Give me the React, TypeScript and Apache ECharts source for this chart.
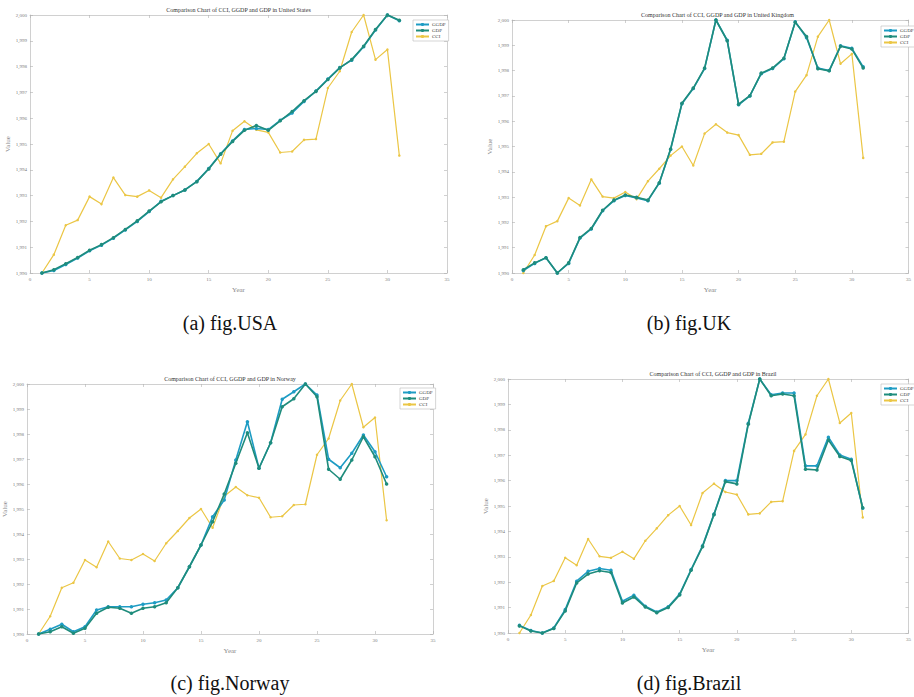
import { useEffect, useRef } from "react";
import * as echarts from "echarts";

const years = [1, 2, 3, 4, 5, 6, 7, 8, 9, 10, 11, 12, 13, 14, 15, 16, 17, 18, 19, 20, 21, 22, 23, 24, 25, 26, 27, 28, 29, 30, 31];
const seriesNames = ["GGDP", "GDP", "CCI"];

const cciValues = [1990.0, 1990.71, 1991.85, 1992.05, 1992.96, 1992.67, 1993.7, 1993.02, 1992.96, 1993.2, 1992.92, 1993.63, 1994.12, 1994.64, 1995.0, 1994.25, 1995.51, 1995.88, 1995.55, 1995.45, 1994.67, 1994.71, 1995.16, 1995.19, 1997.17, 1997.82, 1999.34, 2000.0, 1998.27, 1998.66, 1994.55];

const usaGgdp = [1990.0, 1990.1, 1990.33, 1990.58, 1990.86, 1991.08, 1991.35, 1991.67, 1992.0, 1992.38, 1992.78, 1993.0, 1993.22, 1993.55, 1994.05, 1994.62, 1995.12, 1995.56, 1995.6, 1995.56, 1995.92, 1996.2, 1996.65, 1997.05, 1997.52, 1997.96, 1998.25, 1998.77, 1999.42, 2000.0, 1999.78];
const usaGdp = [1990.0, 1990.13, 1990.36, 1990.6, 1990.88, 1991.1, 1991.37, 1991.69, 1992.02, 1992.4, 1992.76, 1993.0, 1993.22, 1993.54, 1994.03, 1994.6, 1995.1, 1995.53, 1995.72, 1995.53, 1995.9, 1996.26, 1996.68, 1997.04, 1997.5, 1997.95, 1998.27, 1998.79, 1999.44, 2000.0, 1999.8];

const ukGgdp = [1990.1, 1990.38, 1990.6, 1990.0, 1990.38, 1991.38, 1991.74, 1992.46, 1992.86, 1993.06, 1992.97, 1992.86, 1993.55, 1994.88, 1996.69, 1997.29, 1998.08, 2000.0, 1999.2, 1996.65, 1997.0, 1997.88, 1998.08, 1998.47, 1999.93, 1999.3, 1998.1, 1998.0, 1998.98, 1998.88, 1998.15];
const ukGdp = [1990.13, 1990.4, 1990.6, 1990.0, 1990.4, 1991.4, 1991.76, 1992.48, 1992.88, 1993.08, 1992.99, 1992.88, 1993.57, 1994.9, 1996.71, 1997.31, 1998.1, 2000.0, 1999.18, 1996.67, 1997.01, 1997.9, 1998.1, 1998.49, 1999.91, 1999.35, 1998.07, 1997.99, 1998.96, 1998.85, 1998.1];

const norwayGgdp = [1990.0, 1990.19, 1990.39, 1990.09, 1990.29, 1990.96, 1991.09, 1991.09, 1991.09, 1991.19, 1991.25, 1991.36, 1991.85, 1992.69, 1993.56, 1994.69, 1995.36, 1996.96, 1998.49, 1996.63, 1997.65, 1999.39, 1999.69, 2000.0, 1999.56, 1996.99, 1996.65, 1997.23, 1997.96, 1997.29, 1996.29];
const norwayGdp = [1990.0, 1990.09, 1990.29, 1990.03, 1990.23, 1990.83, 1991.07, 1991.03, 1990.83, 1991.03, 1991.09, 1991.25, 1991.85, 1992.69, 1993.56, 1994.49, 1995.6, 1996.83, 1998.05, 1996.63, 1997.65, 1999.09, 1999.41, 2000.0, 1999.49, 1996.59, 1996.19, 1996.96, 1997.89, 1997.09, 1996.0];

const brazilGgdp = [1990.3, 1990.1, 1990.0, 1990.2, 1990.92, 1992.04, 1992.43, 1992.54, 1992.47, 1991.25, 1991.49, 1991.05, 1990.83, 1991.03, 1991.53, 1992.5, 1993.43, 1994.68, 1996.0, 1996.0, 1998.26, 2000.0, 1999.38, 1999.45, 1999.45, 1996.58, 1996.58, 1997.71, 1997.01, 1996.84, 1994.91];
const brazilGdp = [1990.28, 1990.08, 1990.0, 1990.18, 1990.87, 1991.97, 1992.32, 1992.45, 1992.38, 1991.18, 1991.42, 1991.02, 1990.8, 1991.0, 1991.5, 1992.47, 1993.4, 1994.66, 1995.96, 1995.87, 1998.22, 2000.0, 1999.34, 1999.41, 1999.34, 1996.45, 1996.42, 1997.6, 1996.95, 1996.79, 1994.93];

const panels = [
  { title: "Comparison Chart of CCI, GGDP and GDP in United States", caption: "(a) fig.USA", ggdp: usaGgdp, gdp: usaGdp },
  { title: "Comparison Chart of CCI, GGDP and GDP in United Kingdom", caption: "(b) fig.UK", ggdp: ukGgdp, gdp: ukGdp },
  { title: "Comparison Chart of CCI, GGDP and GDP in Norway", caption: "(c) fig.Norway", ggdp: norwayGgdp, gdp: norwayGdp },
  { title: "Comparison Chart of CCI, GGDP and GDP in Brazil", caption: "(d) fig.Brazil", ggdp: brazilGgdp, gdp: brazilGdp },
];

// layout (pixels)
const layouts = [
  { left: 30, top: 15, width: 417, height: 258, legendLeft: 413, legendTop: 20, capX: 230, capY: 323 },
  { left: 512, top: 20, width: 411, height: 253, legendLeft: 881, legendTop: 26, capX: 689, capY: 323 },
  { left: 27, top: 384, width: 406, height: 250, legendLeft: 400, legendTop: 388, capX: 230, capY: 683 },
  { left: 508, top: 379, width: 410, height: 254, legendLeft: 881, legendTop: 384, capX: 689, capY: 683 },
];

const colors = ["#1E9CC4", "#1F8C7C", "#EBC645"];
const SERIF = "'Liberation Serif', 'Times New Roman', serif";
const axisColor = "#c4c4c4";
const labelColor = "#7a7a7a";

export default function App() {
  const ref = useRef<HTMLDivElement>(null);
  useEffect(() => {
    if (!ref.current) return;
    const chart = echarts.init(ref.current, undefined, { renderer: "svg" });
    const grid: any[] = [];
    const xAxis: any[] = [];
    const yAxis: any[] = [];
    const series: any[] = [];
    const title: any[] = [];
    const legend: any[] = [];

    panels.forEach((p, g) => {
      const L = layouts[g];
      grid.push({ left: L.left, top: L.top, width: L.width, height: L.height, containLabel: false });
      const baseLine = { show: true, onZero: false, lineStyle: { color: axisColor, width: 0.8 } };
      const baseTick = { show: true, inside: true, length: 3, lineStyle: { color: "#b0b0b0", width: 0.6 } };
      xAxis.push({
        type: "value", gridIndex: g, min: 0, max: 35, interval: 5, position: "bottom",
        axisLine: baseLine, axisTick: baseTick, splitLine: { show: false },
        axisLabel: { fontSize: 5, color: labelColor, margin: 4, fontFamily: SERIF },
        name: "Year", nameLocation: "middle", nameGap: 13,
        nameTextStyle: { fontSize: 7, color: "#8a8a8a", fontFamily: SERIF },
      });
      xAxis.push({
        type: "value", gridIndex: g, min: 0, max: 35, interval: 5, position: "top",
        axisLine: baseLine, axisTick: baseTick, splitLine: { show: false },
        axisLabel: { show: false },
      });
      yAxis.push({
        type: "value", gridIndex: g, min: 1990, max: 2000, interval: 1, position: "left",
        axisLine: baseLine, axisTick: baseTick, splitLine: { show: false },
        axisLabel: { fontSize: 5, color: labelColor, margin: 3, fontFamily: SERIF },
        name: "Value", nameLocation: "middle", nameGap: 16, nameRotate: 90,
        nameTextStyle: { fontSize: 7, color: "#8a8a8a", fontFamily: SERIF },
      });
      yAxis.push({
        type: "value", gridIndex: g, min: 1990, max: 2000, interval: 1, position: "right",
        axisLine: baseLine, axisTick: baseTick, splitLine: { show: false },
        axisLabel: { show: false },
      });
      const vals = [p.ggdp, p.gdp, cciValues];
      vals.forEach((arr, k) => {
        series.push({
          type: "line",
          name: seriesNames[k],
          xAxisIndex: 2 * g,
          yAxisIndex: 2 * g,
          data: years.map((x, i) => [x, arr[i]]),
          symbol: "circle",
          symbolSize: k === 2 ? 2.5 : 3.5,
          showSymbol: true,
          lineStyle: { color: colors[k], width: k === 2 ? 1.2 : 1.6 },
          itemStyle: { color: colors[k] },
          z: k === 2 ? 2 : 3 + k,
        });
      });
      title.push({
        text: p.title,
        left: L.left + L.width / 2,
        top: L.top - 8,
        textAlign: "center",
        padding: 0,
        textStyle: { fontSize: 6, fontWeight: "normal", color: "#333", fontFamily: SERIF },
      });
      legend.push({
        data: seriesNames,
        orient: "vertical",
        left: L.legendLeft,
        top: L.legendTop,
        itemWidth: 13,
        itemHeight: 4,
        itemGap: 1,
        padding: [2, 3, 2, 2],
        borderColor: "#bbbbbb",
        borderWidth: 0.6,
        backgroundColor: "#ffffff",
        textStyle: { fontSize: 5, color: "#444", fontFamily: SERIF, padding: [0, 0, 0, -2] },
      });
    });

    const graphics = panels.map((p, g) => ({
      type: "text",
      x: layouts[g].capX,
      y: layouts[g].capY,
      style: {
        text: p.caption,
        fill: "#111",
        fontSize: 20,
        fontFamily: SERIF,
        textAlign: "center",
        textVerticalAlign: "middle",
      },
    }));

    chart.setOption({
      animation: false,
      backgroundColor: "#ffffff",
      title,
      legend,
      grid,
      xAxis,
      yAxis,
      series,
      graphic: graphics,
    });
    return () => chart.dispose();
  }, []);
  return (
    <div
      ref={ref}
      style={{ position: "absolute", left: 0, top: 0, width: 914, height: 697, background: "#fff" }}
    />
  );
}
